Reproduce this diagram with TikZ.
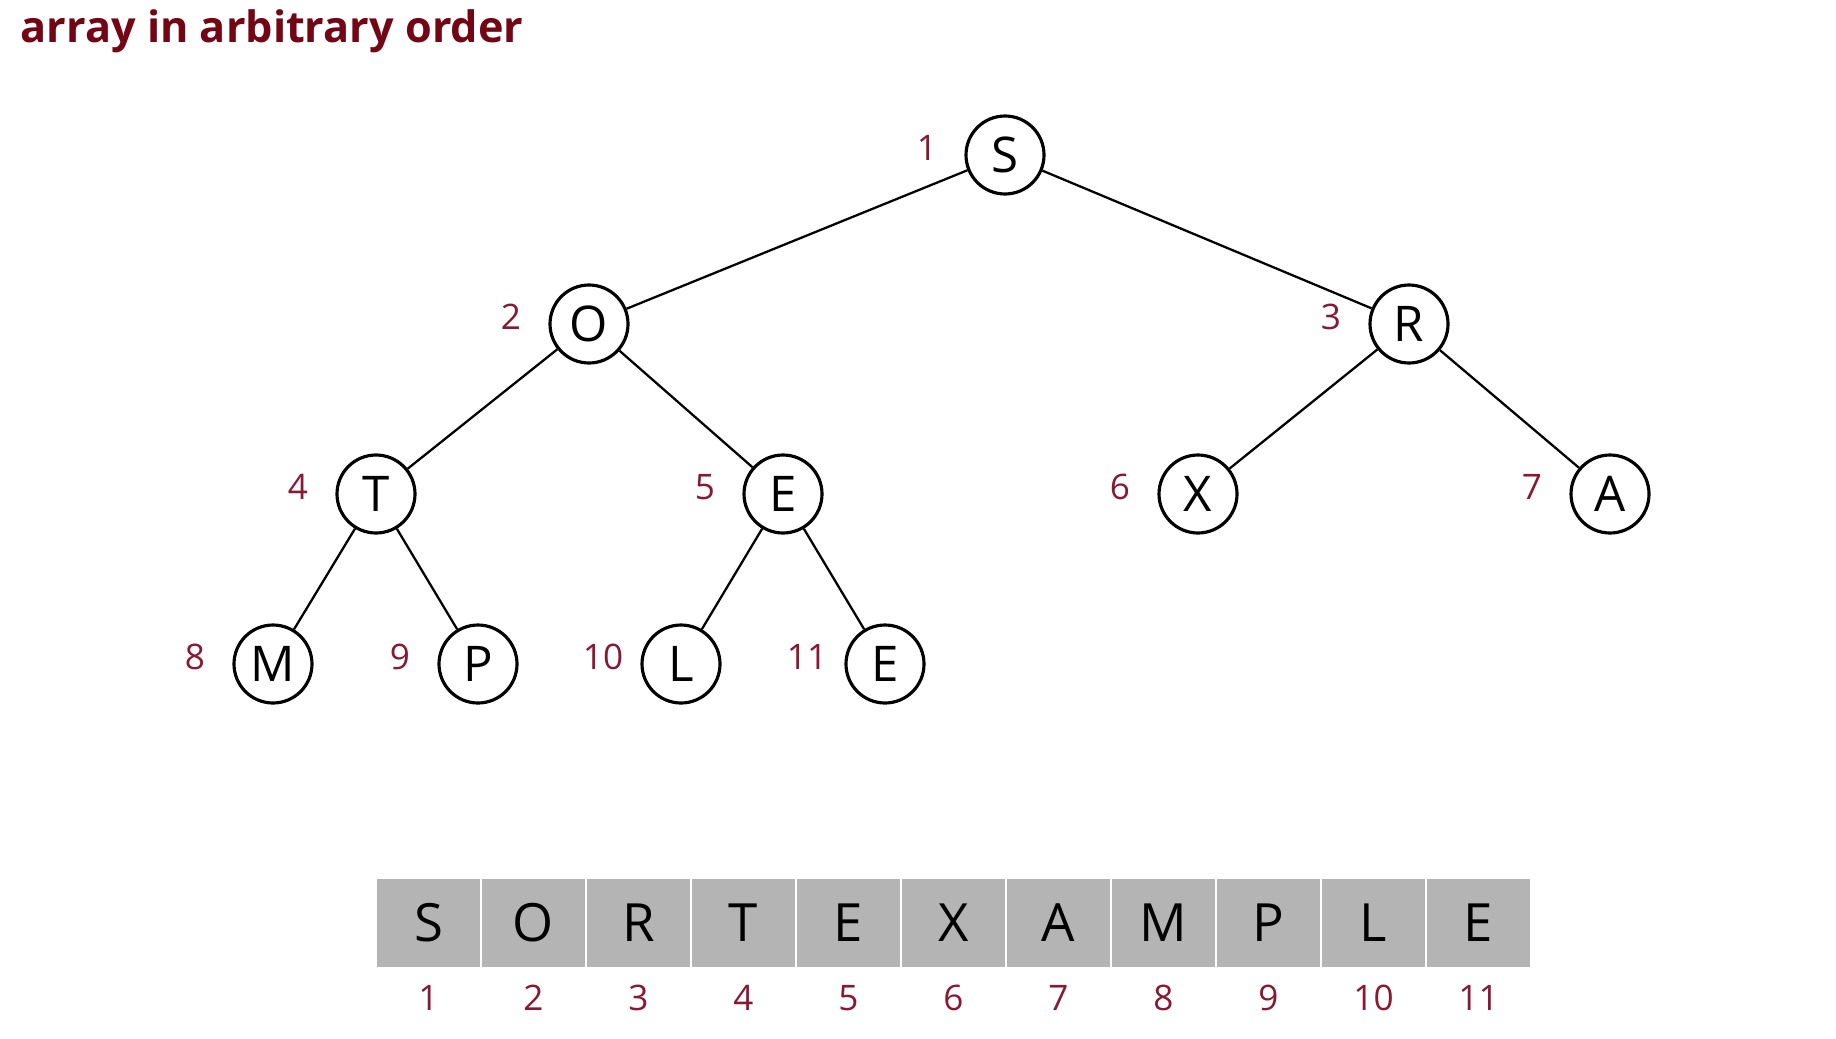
\documentclass[tikz,border=0pt]{standalone}
\usepackage{fontspec}
\setmainfont{Open Sans}
\usepackage{tikz}
\usetikzlibrary{calc}

\definecolor{numred}{RGB}{135,25,50}
\definecolor{titlered}{RGB}{115,5,20}
\definecolor{cellgray}{RGB}{180,180,180}

\tikzset{
	key/.style={circle, draw, line width=0.9pt, minimum size=0.78cm, inner sep=0pt, font=\fontsize{14}{14}\selectfont},
	num/.style={text=numred, font=\fontsize{10}{10}\selectfont},
	cell/.style={fill=cellgray, draw=white, line width=0.6pt, minimum width=1.05cm, minimum height=0.9cm, inner sep=0pt, font=\fontsize{15}{15}\selectfont},
	link/.style={line width=0.65pt}
}

\begin{document}
\begin{tikzpicture}

	\useasboundingbox (0,0) rectangle (18.36,10.38);

	\node[anchor=base west, inner sep=0pt, text=titlered, font=\bfseries\fontsize{12.3}{12.3}\selectfont] (title) at (0.20,9.96) {array in arbitrary order};

	% heap as a tree
	\node[key] (k1) at (10.05,8.83) {S};
	\node[key] (k2) at (5.89,7.14) {O};
	\node[key] (k3) at (14.09,7.14) {R};
	\node[key] (k4) at (3.76,5.44) {T};
	\node[key] (k5) at (7.83,5.44) {E};
	\node[key] (k6) at (11.98,5.44) {X};
	\node[key] (k7) at (16.10,5.44) {A};
	\node[key] (k8) at (2.73,3.74) {M};
	\node[key] (k9) at (4.78,3.74) {P};
	\node[key] (k10) at (6.81,3.74) {L};
	\node[key] (k11) at (8.85,3.74) {E};

	\draw[link] (k1) -- (k2);
	\draw[link] (k1) -- (k3);
	\draw[link] (k2) -- (k4);
	\draw[link] (k2) -- (k5);
	\draw[link] (k3) -- (k6);
	\draw[link] (k3) -- (k7);
	\draw[link] (k4) -- (k8);
	\draw[link] (k4) -- (k9);
	\draw[link] (k5) -- (k10);
	\draw[link] (k5) -- (k11);

	\foreach \i in {1,...,11}
		\node[num] (n\i) at ($(k\i)+(-0.78,0.07)$) {\i};

	% heap as an array
	\foreach \c [count=\i] in {S,O,R,T,E,X,A,M,P,L,E} {
		\node[cell] (a\i) at (3.76+1.05*\i-0.525,1.15) {\c};
		\node[num] (b\i) at (3.76+1.05*\i-0.525,0.40) {\i};
	}

\end{tikzpicture}
\end{document}
